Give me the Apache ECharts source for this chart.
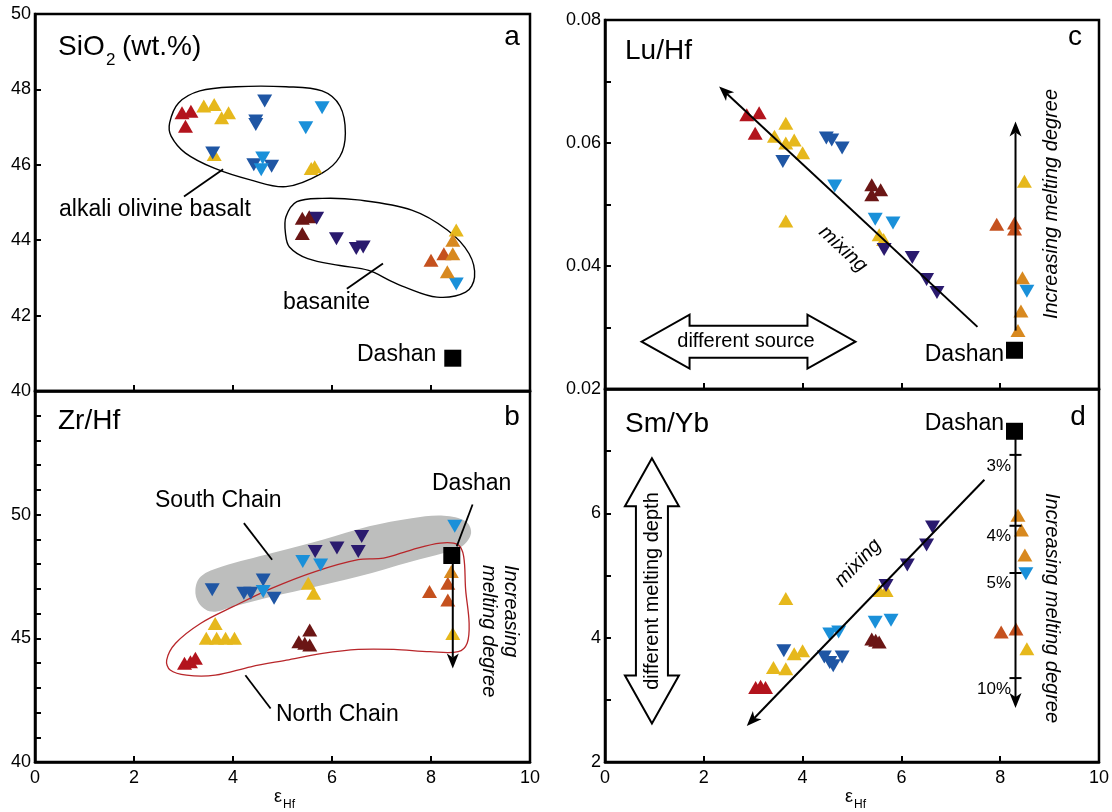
<!DOCTYPE html>
<html><head><meta charset="utf-8">
<script src="https://cdn.jsdelivr.net/npm/echarts/dist/echarts.min.js"></script>
<style>html,body{margin:0;padding:0;background:#fff}#c{width:1112px;height:812px}</style>
</head><body><div id="c"></div>
<script>
// ---------- DATA (x = eps Hf, y = ratio) ----------
// Panel a : SiO2 (wt.%)
const aRed=[[2.97,47.38],[3.15,47.42],[3.04,47.02]];
const aYellow=[[3.41,47.56],[3.62,47.60],[3.77,47.25],[3.91,47.38],[3.62,46.27],[5.58,45.90],[5.65,45.95],[8.51,44.27]];
const aDarkBlue=[[4.64,47.69],[4.46,47.16],[4.46,47.07],[3.59,46.31],[4.42,46.00],[4.78,45.96]];
const aLightBlue=[[5.80,47.51],[5.47,46.98],[4.60,46.18],[4.57,45.87],[8.51,42.84]];
const aMaroon=[[5.40,44.58],[5.54,44.62],[5.40,44.18]];
const aNavy=[[5.69,44.58],[6.09,44.04],[6.49,43.78],[6.63,43.82]];
const aOrangeRed=[[8.00,43.47],[8.26,43.64]];
const aOrange=[[8.44,44.00],[8.44,43.64],[8.33,43.16]];
const aDashan=[[8.44,40.87]];
// Panel b : Zr/Hf
const bRed=[[3.02,43.99],[3.14,44.05],[3.24,44.19]];
const bYellow=[[5.52,47.23],[5.63,46.82],[3.64,45.60],[3.46,45.00],[3.67,45.00],[3.85,45.00],[4.03,45.00],[8.44,45.20]];
const bDarkBlue=[[3.58,46.96],[4.22,46.82],[4.36,46.82],[4.61,47.36],[4.83,46.62]];
const bLightBlue=[[4.61,46.89],[5.41,48.11],[5.77,47.97],[8.48,49.53]];
const bMaroon=[[5.55,45.34],[5.33,44.86],[5.55,44.73],[5.45,44.80]];
const bNavy=[[5.66,48.51],[6.10,48.65],[6.60,49.12],[6.53,48.51]];
const bOrangeRed=[[7.97,46.89],[8.34,47.23],[8.34,46.55]];
const bOrange=[[8.41,47.70]];
const bDashan=[[8.42,48.35]];
// Panel c : Lu/Hf
const cRed=[[2.87,0.0646],[3.12,0.0649],[3.04,0.0616]];
const cYellow=[[3.66,0.0632],[3.43,0.0611],[3.66,0.0600],[3.83,0.0605],[4.00,0.0584],[3.66,0.0473],[5.55,0.0451],[5.64,0.0443],[8.49,0.0538]];
const cDarkBlue=[[4.48,0.0608],[4.59,0.0605],[4.80,0.0592],[3.60,0.0570]];
const cLightBlue=[[4.65,0.0530],[5.47,0.0476],[5.83,0.0470],[8.54,0.0359]];
const cMaroon=[[5.40,0.0532],[5.58,0.0524],[5.40,0.0516]];
const cNavy=[[5.65,0.0427],[6.22,0.0414],[6.51,0.0378],[6.72,0.0357]];
const cOrangeRed=[[7.93,0.0468],[8.29,0.0470],[8.29,0.0460]];
const cOrange=[[8.45,0.0381],[8.42,0.0327],[8.36,0.0295]];
const cDashan=[[8.29,0.0263]];
// Panel d : Sm/Yb
const dRed=[[3.05,3.20],[3.15,3.22],[3.25,3.20]];
const dYellow=[[3.66,4.63],[3.41,3.52],[3.66,3.50],[3.83,3.74],[4.00,3.79],[5.55,4.76],[5.69,4.76],[8.54,3.82]];
const dDarkBlue=[[3.62,3.79],[4.44,3.69],[4.55,3.60],[4.62,3.55],[4.80,3.69]];
const dLightBlue=[[4.55,4.06],[4.73,4.09],[5.47,4.25],[5.79,4.28],[8.52,5.03]];
const dMaroon=[[5.40,3.98],[5.48,3.96],[5.55,3.93]];
const dNavy=[[5.69,4.84],[6.12,5.17],[6.51,5.49],[6.63,5.78]];
const dOrangeRed=[[8.02,4.09],[8.32,4.14]];
const dOrange=[[8.36,5.97],[8.43,5.73],[8.50,5.33]];
const dDashan=[[8.29,7.32]];
// Field outlines (data units)
const aBasaltOutline=[[2.72,47.11],[2.90,47.64],[3.33,47.96],[4.06,48.07],[5.07,48.07],[5.80,47.96],[6.16,47.56],[6.27,46.84],[6.16,46.22],[5.80,45.78],[5.07,45.42],[4.35,45.60],[3.62,45.91],[3.04,46.31],[2.75,46.76]];
const aBasaniteOutline=[[5.07,44.62],[5.29,45.02],[5.80,45.11],[6.52,45.07],[7.61,44.80],[8.33,44.27],[8.77,43.64],[8.88,43.02],[8.70,42.62],[8.12,42.49],[7.46,42.76],[7.17,42.93],[6.74,43.20],[6.16,43.33],[5.51,43.51],[5.14,43.82],[5.06,44.18]];
const bSouthChainArea=[[3.24,46.96],[3.35,47.50],[3.78,47.90],[4.79,48.45],[5.81,48.99],[6.75,49.53],[7.61,49.86],[8.26,49.96],[8.70,49.73],[8.81,49.26],[8.63,48.72],[8.26,48.45],[7.61,48.11],[6.53,47.50],[5.66,47.09],[4.79,46.69],[4.00,46.28],[3.56,46.08],[3.31,46.42]];
const bNorthChainOutline=[[2.66,44.12],[2.84,44.80],[3.35,45.61],[4.00,46.28],[4.79,47.03],[5.66,47.70],[6.53,48.18],[7.04,48.24],[7.61,48.58],[8.19,48.85],[8.55,48.78],[8.66,48.31],[8.70,46.96],[8.77,45.61],[8.73,44.80],[8.55,44.46],[7.98,44.46],[7.25,44.55],[6.53,44.55],[5.81,44.39],[5.08,44.12],[4.36,43.85],[3.64,43.51],[3.06,43.51],[2.73,43.72]];
// melting-degree tick positions on panel d line
const dMeltTicks=[6.94,5.80,5.04,3.35];
const dMeltLabels=['3%','4%','5%','10%'];

// ---------- STYLE ----------
const FONT='"Liberation Sans", Arial, Helvetica, sans-serif';
const GROUPS=[
 {key:'Red',c:'#b3141d',down:false},
 {key:'Yellow',c:'#e6b81c',down:false},
 {key:'DarkBlue',c:'#1f56a4',down:true},
 {key:'LightBlue',c:'#1a90d9',down:true},
 {key:'Maroon',c:'#6b1615',down:false},
 {key:'Navy',c:'#2a1a6e',down:true},
 {key:'OrangeRed',c:'#c5511e',down:false},
 {key:'Orange',c:'#d8891f',down:false},
 {key:'Dashan',c:'#000',square:true}
];
const PANEL_DATA=[
 {Red:aRed,Yellow:aYellow,DarkBlue:aDarkBlue,LightBlue:aLightBlue,Maroon:aMaroon,Navy:aNavy,OrangeRed:aOrangeRed,Orange:aOrange,Dashan:aDashan},
 {Red:bRed,Yellow:bYellow,DarkBlue:bDarkBlue,LightBlue:bLightBlue,Maroon:bMaroon,Navy:bNavy,OrangeRed:bOrangeRed,Orange:bOrange,Dashan:bDashan},
 {Red:cRed,Yellow:cYellow,DarkBlue:cDarkBlue,LightBlue:cLightBlue,Maroon:cMaroon,Navy:cNavy,OrangeRed:cOrangeRed,Orange:cOrange,Dashan:cDashan},
 {Red:dRed,Yellow:dYellow,DarkBlue:dDarkBlue,LightBlue:dLightBlue,Maroon:dMaroon,Navy:dNavy,OrangeRed:dOrangeRed,Orange:dOrange,Dashan:dDashan}
];

// ---------- helpers for annotation shapes ----------
function buildArrow(api,a,b,lw){
  const p1=api.coord(a),p2=api.coord(b);
  const dx=p2[0]-p1[0],dy=p2[1]-p1[1],L=Math.hypot(dx,dy),ux=dx/L,uy=dy/L;
  const hl=15,hw=6;
  const bx=p2[0]-ux*hl,by=p2[1]-uy*hl;
  return [
   {type:'line',shape:{x1:p1[0],y1:p1[1],x2:bx+ux*4,y2:by+uy*4},style:{stroke:'#000',lineWidth:lw||2}},
   {type:'polygon',shape:{points:[[p2[0],p2[1]],[bx-uy*hw,by+ux*hw],[bx+ux*4,by+uy*4],[bx+uy*hw,by-ux*hw]]},style:{fill:'#000'}}
  ];
}
function buildDbl(api,a,b){
  const p1=api.coord(a),p2=api.coord(b);
  const dx=p2[0]-p1[0],dy=p2[1]-p1[1],L=Math.hypot(dx,dy),ux=dx/L,uy=dy/L,nx=-uy,ny=ux;
  const hl=48,sw=16,hw=27;
  const P=(base,s,t)=>[base[0]+ux*s+nx*t,base[1]+uy*s+ny*t];
  const pts=[p1,P(p1,hl,hw),P(p1,hl,sw),P(p2,-hl,sw),P(p2,-hl,hw),p2,P(p2,-hl,-hw),P(p2,-hl,-sw),P(p1,hl,-sw),P(p1,hl,-hw)];
  return [{type:'polygon',shape:{points:pts},style:{fill:'#fff',stroke:'#000',lineWidth:2}}];
}
function buildItem(api,it){
  if(it.k==='poly') return [{type:'polygon',shape:{points:it.pts.map(p=>api.coord(p)),smooth:0.35},style:{fill:it.fill||'none',stroke:it.stroke||'none',lineWidth:it.lw||1.4}}];
  if(it.k==='line'){const p1=api.coord(it.a),p2=api.coord(it.b);return [{type:'line',shape:{x1:p1[0],y1:p1[1],x2:p2[0],y2:p2[1]},style:{stroke:'#000',lineWidth:1.8}}];}
  if(it.k==='arrow') return buildArrow(api,it.a,it.b,it.lw);
  if(it.k==='dbl') return buildDbl(api,it.a,it.b);
  if(it.k==='ticks') return it.ys.map(y=>{const p=api.coord([it.x,y]);return {type:'line',shape:{x1:p[0]-6,y1:p[1],x2:p[0]+6,y2:p[1]},style:{stroke:'#000',lineWidth:2}};});
  return [];
}
function annSeries(gi,items,z){
  return {type:'custom',xAxisIndex:gi,yAxisIndex:gi,z:z,silent:true,clip:false,data:[[5,0]],
    renderItem:(params,api)=>({type:'group',children:items.flatMap(it=>buildItem(api,it))})};
}

// annotations per panel
const under=[
 [{k:'poly',pts:aBasaltOutline,stroke:'#000'},{k:'poly',pts:aBasaniteOutline,stroke:'#000'}],
 [{k:'poly',pts:bSouthChainArea,fill:'#bdbebd'},{k:'poly',pts:bNorthChainOutline,stroke:'#b8262a',lw:1.3}],
 [{k:'dbl',a:[0.74,0.0277],b:[5.07,0.0277]}],
 [{k:'dbl',a:[0.95,6.885],b:[0.95,2.62]}]
];
const over=[
 [{k:'line',a:[3.01,45.16],b:[3.80,45.88]},{k:'line',a:[6.30,42.71],b:[7.03,43.38]}],
 [{k:'line',a:[4.22,49.66],b:[4.79,48.18]},{k:'line',a:[4.25,43.51],b:[4.76,42.16]},{k:'line',a:[8.84,50.41],b:[8.52,48.72]},{k:'arrow',a:[8.44,48.31],b:[8.44,43.78]}],
 [{k:'arrow',a:[7.54,0.0301],b:[2.31,0.0692]},{k:'arrow',a:[8.31,0.0295],b:[8.31,0.0635]}],
 [{k:'arrow',a:[7.68,6.54],b:[2.87,2.58]},{k:'arrow',a:[8.31,7.32],b:[8.31,2.87]},{k:'ticks',x:8.31,ys:dMeltTicks}]
];

// ---------- axes ----------
const grids=[
 {left:35,top:14,width:495,height:377},
 {left:35,top:391,width:495,height:371},
 {left:605,top:20,width:494,height:369},
 {left:605,top:389,width:494,height:373}
].map(g=>Object.assign(g,{show:true,borderColor:'#000',borderWidth:2.5,backgroundColor:'transparent'}));
const axLine={show:true,onZero:false,lineStyle:{color:'#000',width:2.5}};
const axTick={show:true,inside:true,length:6,lineStyle:{color:'#000',width:2}};
const xAxis=[0,1,2,3].map(i=>({gridIndex:i,type:'value',min:0,max:10,interval:2,axisLine:axLine,axisTick:axTick,splitLine:{show:false},
  axisLabel:{show:(i===1||i===3),color:'#000',fontSize:18,fontFamily:FONT,margin:7}}));
const yLabel={color:'#000',fontSize:18,fontFamily:FONT,margin:4};
const yAxis=[
 {gridIndex:0,min:40,max:50,interval:2,axisLabel:Object.assign({},yLabel)},
 {gridIndex:1,min:40,max:55,interval:1,axisLabel:Object.assign({},yLabel,{formatter:v=>(v%5===0&&v<55)?String(v):''})},
 {gridIndex:2,min:0.02,max:0.08,interval:0.01,axisLabel:Object.assign({},yLabel,{formatter:v=>(Math.round(v*100)%2===0)?v.toFixed(2):''})},
 {gridIndex:3,min:2,max:8,interval:1,axisLabel:Object.assign({},yLabel,{formatter:v=>(v%2===0&&v<8)?String(v):''})}
].map(a=>Object.assign(a,{type:'value',axisLine:axLine,axisTick:axTick,splitLine:{show:false}}));

// ---------- series ----------
const series=[];
PANEL_DATA.forEach((pd,gi)=>{
  series.push(annSeries(gi,under[gi],1));
  GROUPS.forEach(g=>{
    series.push({type:'scatter',xAxisIndex:gi,yAxisIndex:gi,z:3,silent:true,data:pd[g.key],
      symbol:g.square?'rect':'triangle',symbolSize:g.square?17:[15,13],symbolRotate:g.down?180:0,
      itemStyle:{color:g.c,opacity:1}});
  });
  series.push(annSeries(gi,over[gi],5));
});

// ---------- texts ----------
function T(text,x,y,size,o){o=o||{};return {type:'text',x:x,y:y,rotation:o.rot||0,silent:true,z:100,
  style:{text:text,fontSize:size,fontFamily:FONT,fontStyle:o.italic?'italic':'normal',fill:'#000',align:o.align||'left',verticalAlign:'middle'}};}
const R=Math.PI/180;
const graphics=[
 // panel a
 T('SiO',58,47,28),T('2',106,60,17),T('(wt.%)',122,47,28),T('a',512,37,28,{align:'center'}),
 T('alkali olivine basalt',59,210,23),T('basanite',283,303,23),T('Dashan',357,355,23),
 // panel b
 T('Zr/Hf',58,421,28),T('b',512,417,28,{align:'center'}),
 T('Dashan',432,484,23),T('South Chain',155,501,23),T('North Chain',276,715,23),
 T('Increasing',511,565,20,{italic:true,rot:-90*R}),T('melting degree',489,565,20,{italic:true,rot:-90*R}),
 // panel c
 T('Lu/Hf',625,51,28),T('c',1075,37,28,{align:'center'}),
 T('mixing',843,249,20,{italic:true,align:'center',rot:-43*R}),
 T('different source',746,341,20,{align:'center'}),
 T('Dashan',1004,355,23,{align:'right'}),
 T('Increasing melting degree',1051,204,20,{italic:true,align:'center',rot:90*R}),
 // panel d
 T('Sm/Yb',625,424,28),T('d',1078,417,28,{align:'center'}),
 T('Dashan',1004,424,23,{align:'right'}),
 T('mixing',858,563,20,{italic:true,align:'center',rot:46*R}),
 T('different melting depth',652,591,20,{align:'center',rot:90*R}),
 T('Increasing melting degree',1052,608,20,{italic:true,align:'center',rot:-90*R}),
 // x-axis names
 T('\u03b5',278,797,18,{align:'center'}),T('Hf',289,805,12,{align:'center'}),
 T('\u03b5',849,797,18,{align:'center'}),T('Hf',860,805,12,{align:'center'})
];
dMeltLabels.forEach((s,i)=>{const ys=[466,536,583,689];graphics.push(T(s,1011,ys[i],17,{align:'right'}));});

const chart=echarts.init(document.getElementById('c'),null,{renderer:'canvas'});
chart.setOption({animation:false,backgroundColor:'#fff',grid:grids,xAxis:xAxis,yAxis:yAxis,series:series,graphic:graphics});
</script></body></html>
